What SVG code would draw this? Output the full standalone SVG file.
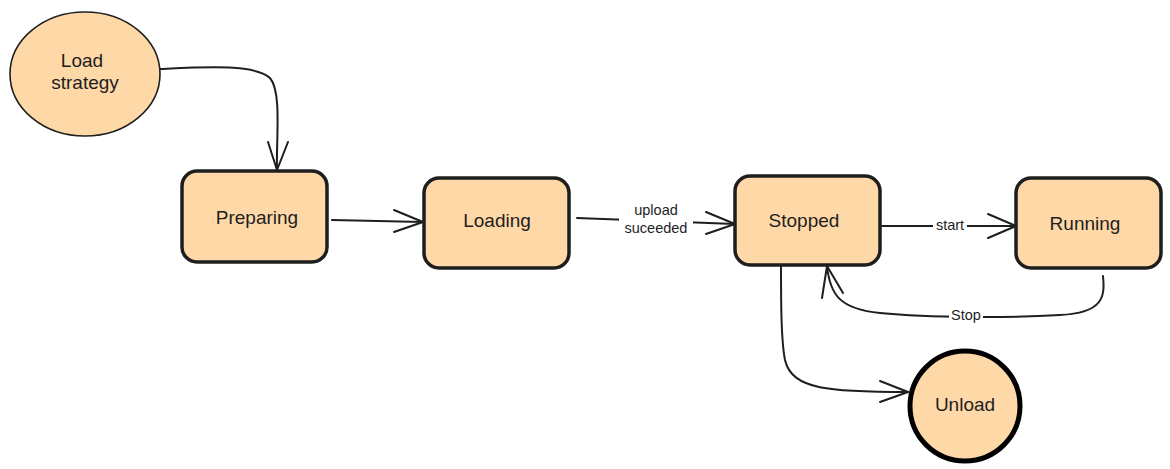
<svg xmlns="http://www.w3.org/2000/svg" width="1170" height="469" viewBox="0 0 1170 469">
<style>
.node{fill:#ffd8a8;stroke:#1e1e1e;stroke-width:3.5}
.ell{fill:#ffd8a8;stroke:#1e1e1e;stroke-width:1.6}
.t{font-family:"Liberation Sans",Arial,sans-serif;font-size:19px;fill:#1e1e1e;text-anchor:middle}
.lbl{font-family:"Liberation Sans",Arial,sans-serif;font-size:14.5px;fill:#1e1e1e;text-anchor:middle}
.c{fill:none;stroke:#1e1e1e;stroke-width:2;stroke-linecap:round;stroke-linejoin:round}
.lb{fill:#ffffff}
</style>
<rect width="1170" height="469" fill="#ffffff"/>
<g id="connectors">
  <g id="e1">
    <path class="c" d="M160,69 C205,67 255,64 270,78 C282,92 276,140 277,170"/>
    <path class="c" d="M268,142 L277,170 L288,142"/>
  </g>
  <g id="e2">
    <path class="c" d="M332,220 L423,222"/>
    <path class="c" d="M394,210 L423,222 L394,232"/>
  </g>
  <g id="e3">
    <path class="c" d="M577,218 L735,224"/>
    <path class="c" d="M706,212 L735,224 L706,234"/>
    <rect class="lb" x="619" y="202" width="74" height="36"/>
    <text class="lbl" x="656" y="215">upload</text>
    <text class="lbl" x="656" y="233">suceeded</text>
  </g>
  <g id="e4">
    <path class="c" d="M882,226 L1016,226"/>
    <path class="c" d="M988,214 L1016,226 L988,238"/>
    <rect class="lb" x="933" y="217" width="34" height="16"/>
    <text class="lbl" x="950" y="230">start</text>
  </g>
  <g id="e5">
    <path class="c" d="M1103,276 C1105,296 1104,313 1060,315 C1010,318 930,318 880,313 C840,309 830,295 827,266"/>
    <path class="c" d="M822,298 L827,266 L843,293"/>
    <rect class="lb" x="949" y="307" width="34" height="16"/>
    <text class="lbl" x="966" y="320">Stop</text>
  </g>
  <g id="e6">
    <path class="c" d="M781,262 C781,300 781,340 785,360 C792,390 830,392 908,392"/>
    <path class="c" d="M880,381 L908,392 L880,402"/>
  </g>
</g>
<g id="load-strategy">
  <ellipse class="ell" cx="85" cy="74" rx="75" ry="62"/>
  <text class="t" x="82" y="67">Load</text>
  <text class="t" x="85" y="89">strategy</text>
</g>
<g id="preparing">
  <rect class="node" x="182" y="171" width="145" height="91" rx="15"/>
  <text class="t" x="257" y="224">Preparing</text>
</g>
<g id="loading">
  <rect class="node" x="424" y="178" width="145" height="90" rx="15"/>
  <text class="t" x="497" y="227">Loading</text>
</g>
<g id="stopped">
  <rect class="node" x="735" y="176" width="145" height="89" rx="15"/>
  <text class="t" x="804" y="227">Stopped</text>
</g>
<g id="running">
  <rect class="node" x="1016" y="178" width="145" height="90" rx="15"/>
  <text class="t" x="1085" y="230">Running</text>
</g>
<g id="unload">
  <circle cx="965" cy="406" r="55" fill="#ffd8a8" stroke="#000000" stroke-width="5"/>
  <text class="t" x="965" y="411">Unload</text>
</g>
</svg>
